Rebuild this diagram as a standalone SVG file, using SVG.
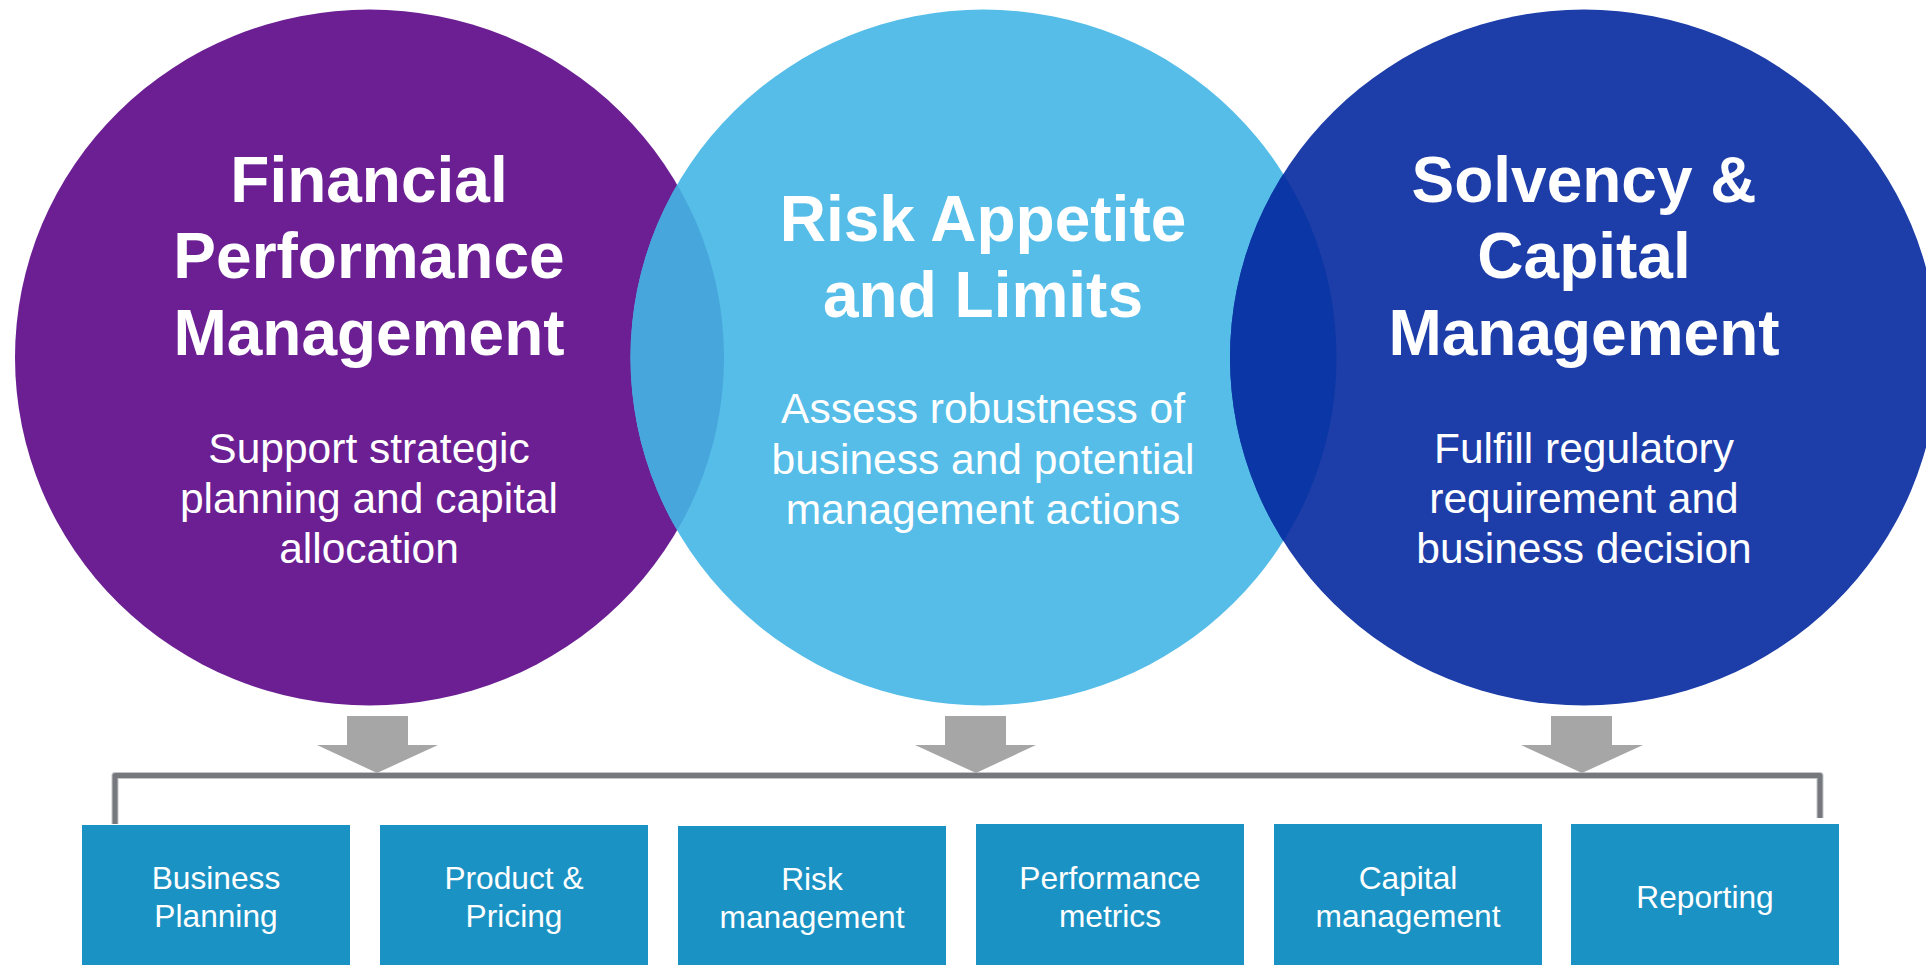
<svg xmlns="http://www.w3.org/2000/svg" width="1926" height="965" viewBox="0 0 1926 965">
  <style>
    .title { font-family: "Liberation Sans", Arial, sans-serif; font-weight: bold; font-size: 64px; fill: #ffffff; text-anchor: middle; }
    .sub { font-family: "Liberation Sans", Arial, sans-serif; font-size: 42.5px; fill: #ffffff; text-anchor: middle; }
    .boxtext { font-family: "Liberation Sans", Arial, sans-serif; font-size: 31.7px; fill: #ffffff; text-anchor: middle; }
    .box { fill: #1B92C4; }
    .arrow { fill: #A6A6A6; }
  </style>
  <defs>
    <clipPath id="clipPurple"><ellipse cx="369.5" cy="357.5" rx="354.5" ry="348"/></clipPath>
    <clipPath id="clipLight"><ellipse cx="983.5" cy="357.5" rx="353" ry="348"/></clipPath>
  </defs>
  <rect width="1926" height="965" fill="#ffffff"/>

  <g id="node-financial">
    <ellipse cx="369.5" cy="357.5" rx="354.5" ry="348" fill="#6B1F93"/>
  </g>
  <g id="node-risk">
    <ellipse cx="983.5" cy="357.5" rx="353" ry="348" fill="#55BDE8"/>
    <ellipse cx="983.5" cy="357.5" rx="353" ry="348" fill="#47A6DC" clip-path="url(#clipPurple)"/>
  </g>
  <g id="node-solvency">
    <ellipse cx="1584" cy="357.5" rx="354" ry="348" fill="#1D3DA8"/>
    <ellipse cx="1584" cy="357.5" rx="354" ry="348" fill="#0A37A5" clip-path="url(#clipLight)"/>
  </g>

  <g id="text-financial">
    <text class="title" x="369" y="202">Financial</text>
    <text class="title" x="369" y="278">Performance</text>
    <text class="title" x="369" y="355">Management</text>
    <text class="sub" x="369" y="463">Support strategic</text>
    <text class="sub" x="369" y="513">planning and capital</text>
    <text class="sub" x="369" y="563">allocation</text>
  </g>
  <g id="text-risk">
    <text class="title" x="983" y="241">Risk Appetite</text>
    <text class="title" x="983" y="317">and Limits</text>
    <text class="sub" x="983" y="423">Assess robustness of</text>
    <text class="sub" x="983" y="474">business and potential</text>
    <text class="sub" x="983" y="524">management actions</text>
  </g>
  <g id="text-solvency">
    <text class="title" x="1584" y="202">Solvency &amp;</text>
    <text class="title" x="1584" y="278">Capital</text>
    <text class="title" x="1584" y="355">Management</text>
    <text class="sub" x="1584" y="463">Fulfill regulatory</text>
    <text class="sub" x="1584" y="513">requirement and</text>
    <text class="sub" x="1584" y="563">business decision</text>
  </g>

  <g id="connectors">
    <path d="M115,824 V775.5 H1820 V818" fill="none" stroke="#C4C5C7" stroke-width="7" stroke-linejoin="round"/>
    <path d="M115,824 V775.5 H1820 V818" fill="none" stroke="#75797D" stroke-width="5" stroke-linejoin="round"/>
    <polygon class="arrow" points="347,716 408,716 408,745 438,745 377,773 317,745 347,745"/>
    <polygon class="arrow" points="945,716 1006,716 1006,745 1036,745 976,773 915,745 945,745"/>
    <polygon class="arrow" points="1551,716 1612,716 1612,745 1643,745 1582,773 1521,745 1551,745"/>
  </g>

  <g id="box-business-planning">
    <rect class="box" x="82" y="825" width="268" height="140"/>
    <text class="boxtext" x="216" y="889">Business</text>
    <text class="boxtext" x="216" y="927">Planning</text>
  </g>
  <g id="box-product-pricing">
    <rect class="box" x="380" y="825" width="268" height="140"/>
    <text class="boxtext" x="514" y="889">Product &amp;</text>
    <text class="boxtext" x="514" y="927">Pricing</text>
  </g>
  <g id="box-risk-management">
    <rect class="box" x="678" y="826" width="268" height="139"/>
    <text class="boxtext" x="812" y="890">Risk</text>
    <text class="boxtext" x="812" y="928">management</text>
  </g>
  <g id="box-performance-metrics">
    <rect class="box" x="976" y="824" width="268" height="141"/>
    <text class="boxtext" x="1110" y="889">Performance</text>
    <text class="boxtext" x="1110" y="927">metrics</text>
  </g>
  <g id="box-capital-management">
    <rect class="box" x="1274" y="824" width="268" height="141"/>
    <text class="boxtext" x="1408" y="889">Capital</text>
    <text class="boxtext" x="1408" y="927">management</text>
  </g>
  <g id="box-reporting">
    <rect class="box" x="1571" y="824" width="268" height="141"/>
    <text class="boxtext" x="1705" y="908">Reporting</text>
  </g>
</svg>
